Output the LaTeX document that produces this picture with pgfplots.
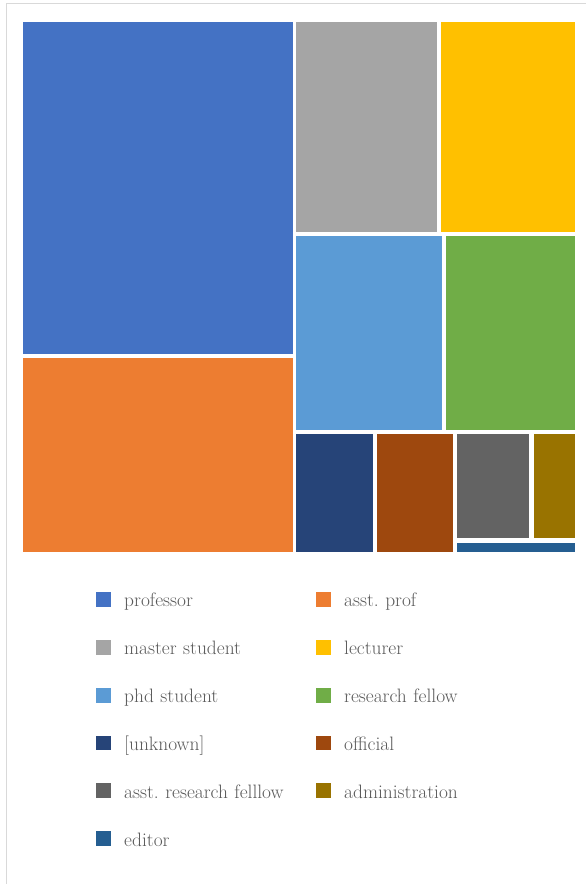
\documentclass[border=0pt]{standalone}
\usepackage{pgfplots}
\pgfplotsset{compat=1.18}

% Office palette
\definecolor{cProf}{HTML}{4472C4}
\definecolor{cAsst}{HTML}{ED7D31}
\definecolor{cMaster}{HTML}{A5A5A5}
\definecolor{cLect}{HTML}{FFC000}
\definecolor{cPhd}{HTML}{5B9BD5}
\definecolor{cFellow}{HTML}{70AD47}
\definecolor{cUnknown}{HTML}{264478}
\definecolor{cOfficial}{HTML}{9E480E}
\definecolor{cArf}{HTML}{636363}
\definecolor{cAdmin}{HTML}{997300}
\definecolor{cEditor}{HTML}{255E91}
\definecolor{legendtext}{HTML}{595959}
\definecolor{frame}{HTML}{D9D9D9}

% treemap tiles: colour, left, right, top, bottom (layout units, y grows downward)
\newcommand{\tile}[5]{%
  \addplot[fill=#1, draw=none]
    coordinates {(#2,#4) (#3,#4) (#3,#5) (#2,#5)} -- cycle;}

\frenchspacing
\begin{document}
\begin{tikzpicture}
\begin{axis}[
  width=586bp, height=884bp, scale only axis,
  xmin=0, xmax=586, ymin=0, ymax=884,
  y dir=reverse,
  hide axis, clip=false,
  legend columns=2,
  legend image code/.code={\fill[#1] (0bp,0bp) rectangle (15.3bp,14.8bp);},
  legend style={
    draw=none, fill=none, inner sep=0pt, outer sep=0pt,
    at={(axis cs:95.7,592.3)}, anchor=north west,
    font=\fontsize{19.5}{23}\selectfont, text=legendtext,
    row sep=33.1bp,
    /tikz/every odd column/.append style={column sep=13.3bp},
    nodes={inner sep=0pt, anchor=base west, text height=14.8bp,
           text depth=0bp, text width=191.5bp, align=left},
  },
]
\path (axis cs:0,0) rectangle (axis cs:586,884);
\draw[frame, line width=1bp] (axis cs:6.4,884) -- (axis cs:6.4,3.7) -- (axis cs:586,3.7);

\tile{cProf}    {23}   {292.7}{22}   {354}
\addlegendentry{professor}
\tile{cAsst}    {23}   {292.7}{358}  {552.5}
\addlegendentry{asst. prof}
\tile{cMaster}  {296.5}{437.2}{22}   {232}
\addlegendentry{master student}
\tile{cLect}    {441.5}{575.5}{22}   {232}
\addlegendentry{lecturer}
\tile{cPhd}     {296.5}{442}  {236}  {430}
\addlegendentry{phd student}
\tile{cFellow}  {446}  {575.5}{236}  {430}
\addlegendentry{research fellow}
\tile{cUnknown} {296.5}{373.3}{434.3}{552.5}
\addlegendentry{{[unknown]}}
\tile{cOfficial}{377.3}{453.7}{434.3}{552.5}
\addlegendentry{official}
\tile{cArf}     {457.7}{529.7}{434.3}{538.7}
\addlegendentry{asst. research felllow}
\tile{cAdmin}   {534}  {575.5}{434.3}{538.7}
\addlegendentry{administration}
\tile{cEditor}  {457.7}{575.5}{543.3}{552.5}
\addlegendentry{editor}
\end{axis}
\end{tikzpicture}
\end{document}
